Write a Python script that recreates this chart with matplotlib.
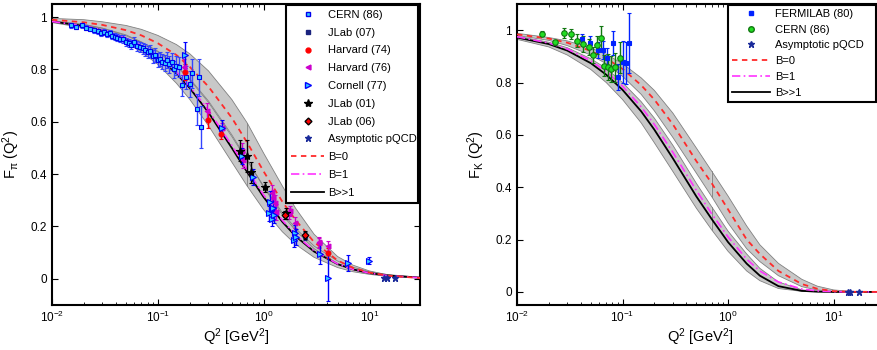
""" Pion and kaon form factors vs Q^2 with model curves and data. """

import numpy as np
import matplotlib
matplotlib.use('Agg')
import matplotlib.pyplot as plt
from matplotlib.lines import Line2D


# -------------------------------------------------------------------------------
# 0. DATA
# -------------------------------------------------------------------------------

q2_grid = [0.01, 0.02, 0.03, 0.05, 0.07, 0.1, 0.15, 0.2, 0.3, 0.5, 0.7,
           1, 1.5, 2, 3, 5, 7, 10, 15, 30]

# pion curves
pi_b0 = [0.99, 0.98, 0.97, 0.95, 0.93, 0.90, 0.855, 0.81, 0.735, 0.615, 0.52,
         0.41, 0.295, 0.225, 0.14, 0.07, 0.042, 0.024, 0.012, 0.003]
pi_b1 = [0.983, 0.967, 0.951, 0.921, 0.892, 0.851, 0.79, 0.736, 0.645, 0.51, 0.416,
         0.32, 0.224, 0.168, 0.107, 0.057, 0.036, 0.022, 0.012, 0.004]
pi_binf = [0.983, 0.966, 0.949, 0.918, 0.888, 0.847, 0.784, 0.729, 0.636, 0.500, 0.407,
           0.312, 0.218, 0.163, 0.104, 0.056, 0.036, 0.022, 0.0125, 0.0046]
pi_band1_lo = [0.979, 0.959, 0.939, 0.902, 0.867, 0.819, 0.747, 0.686, 0.586, 0.446, 0.354,
               0.264, 0.180, 0.132, 0.082, 0.043, 0.027, 0.017, 0.009, 0.003]
pi_band1_hi = [0.985, 0.971, 0.957, 0.929, 0.904, 0.867, 0.811, 0.761, 0.675, 0.544, 0.451,
               0.354, 0.253, 0.193, 0.125, 0.068, 0.044, 0.027, 0.016, 0.006]
pi_band0_lo = [0.985, 0.972, 0.958, 0.932, 0.905, 0.87, 0.815, 0.765, 0.68, 0.55, 0.455,
               0.35, 0.245, 0.185, 0.115, 0.058, 0.035, 0.02, 0.01, 0.003]
pi_band0_hi = [0.995, 0.99, 0.982, 0.968, 0.953, 0.93, 0.895, 0.86, 0.795, 0.685, 0.595,
               0.48, 0.355, 0.27, 0.17, 0.085, 0.052, 0.03, 0.015, 0.004]

# kaon curves
k_b0 = [0.984, 0.968, 0.952, 0.921, 0.892, 0.852, 0.79, 0.735, 0.64, 0.50, 0.415,
        0.315, 0.20, 0.145, 0.08, 0.03, 0.012, 0.003, 0.0005, 0.0]
k_b1 = [0.975, 0.951, 0.928, 0.883, 0.842, 0.786, 0.707, 0.64, 0.533, 0.388, 0.298,
        0.21, 0.125, 0.08, 0.038, 0.011, 0.004, 0.001, 0.0, 0.0]
k_binf = [0.972, 0.947, 0.922, 0.874, 0.83, 0.772, 0.69, 0.62, 0.51, 0.365, 0.278,
          0.19, 0.108, 0.062, 0.022, 0.004, 0.001, 0.0, 0.0, 0.0]
k_band1_lo = [0.965, 0.936, 0.905, 0.85, 0.80, 0.735, 0.646, 0.57, 0.46, 0.32, 0.237,
              0.155, 0.08, 0.043, 0.013, 0.002, 0.0003, 0.0, 0.0, 0.0]
k_band1_hi = [0.977, 0.954, 0.933, 0.891, 0.854, 0.80, 0.727, 0.664, 0.56, 0.415, 0.325,
              0.232, 0.145, 0.09, 0.038, 0.008, 0.002, 0.0004, 0.0, 0.0]
k_band0_lo = [0.980, 0.961, 0.941, 0.905, 0.872, 0.824, 0.755, 0.692, 0.59, 0.454, 0.364,
              0.263, 0.165, 0.116, 0.062, 0.020, 0.0074, 0.0017, 0.0, 0.0]
k_band0_hi = [0.988, 0.972, 0.959, 0.932, 0.908, 0.872, 0.818, 0.77, 0.683, 0.55, 0.461,
              0.366, 0.252, 0.18, 0.109, 0.048, 0.022, 0.0076, 0.0014, 0.0]

# pion data
cern86_q2 = [0.015, 0.017, 0.019, 0.021, 0.023, 0.025, 0.027, 0.029, 0.031, 0.033, 0.035,
             0.037, 0.039, 0.041, 0.044, 0.047, 0.05, 0.053, 0.056, 0.06, 0.064, 0.068,
             0.072, 0.076, 0.08, 0.085, 0.09, 0.095, 0.1, 0.105, 0.11, 0.116, 0.122,
             0.128, 0.135, 0.142, 0.15, 0.158, 0.17, 0.185, 0.2, 0.212, 0.234, 0.244, 0.255]
cern86_f = [0.968, 0.962, 0.968, 0.96, 0.955, 0.95, 0.945, 0.938, 0.942, 0.935, 0.94,
            0.928, 0.925, 0.922, 0.918, 0.915, 0.905, 0.90, 0.895, 0.905, 0.89, 0.885,
            0.88, 0.875, 0.865, 0.87, 0.85, 0.855, 0.835, 0.84, 0.83, 0.825, 0.835,
            0.82, 0.83, 0.80, 0.815, 0.81, 0.74, 0.77, 0.745, 0.785, 0.648, 0.77, 0.58]
cern86_err = [0.008, 0.008, 0.008, 0.009, 0.009, 0.01, 0.01, 0.01, 0.011, 0.011, 0.012,
              0.012, 0.013, 0.013, 0.014, 0.015, 0.015, 0.016, 0.017, 0.018, 0.019, 0.02,
              0.021, 0.022, 0.023, 0.024, 0.025, 0.026, 0.027, 0.028, 0.029, 0.03, 0.031,
              0.032, 0.033, 0.034, 0.036, 0.038, 0.04, 0.045, 0.05, 0.055, 0.06, 0.07, 0.08]

jlab07_q2 = [1.60, 2.45]
jlab07_f = [0.243, 0.165]
jlab07_err = [0.015, 0.015]

harv74_q2 = [0.18, 0.295, 0.395, 4.05]
harv74_f = [0.79, 0.607, 0.553, 0.098]
harv74_err = [0.03, 0.03, 0.02, 0.02]

harv76_q2 = [0.175, 0.29, 0.405, 0.62, 0.64, 1.19, 1.22, 1.27, 1.32, 1.72, 1.79, 1.98,
             3.3, 3.34, 4.09]
harv76_f = [0.81, 0.64, 0.575, 0.49, 0.455, 0.327, 0.31, 0.29, 0.255, 0.25, 0.26, 0.215,
            0.136, 0.14, 0.125]
harv76_err = [0.03, 0.03, 0.02, 0.03, 0.03, 0.03, 0.03, 0.03, 0.03, 0.02, 0.02, 0.02,
              0.02, 0.02, 0.02]

corn77_q2 = [0.18, 0.40, 0.62, 0.80, 1.13, 1.16, 1.2, 1.22, 1.25, 1.95, 1.98, 2.03, 3.4,
             4.09, 6.3, 9.8]
corn77_f = [0.855, 0.575, 0.47, 0.39, 0.25, 0.295, 0.23, 0.27, 0.245, 0.15, 0.175, 0.16,
            0.095, 0.005, 0.06, 0.07]
corn77_err = [0.05, 0.03, 0.03, 0.03, 0.03, 0.04, 0.03, 0.04, 0.03, 0.03, 0.03, 0.03,
              0.04, 0.09, 0.03, 0.015]

jlab01_q2 = [0.60, 0.70, 0.76, 1.02, 1.61]
jlab01_f = [0.49, 0.47, 0.407, 0.35, 0.25]
jlab01_err = [0.04, 0.06, 0.04, 0.02, 0.02]

jlab06_q2 = [1.60, 2.45]
jlab06_f = [0.245, 0.167]
jlab06_err = [0.015, 0.015]

pqcd_pi_q2 = [13.6, 14.7, 17.6]
pqcd_pi_f = [0.002, 0.002, 0.002]

# kaon data
ferm80_q2 = [0.041, 0.049, 0.058, 0.065, 0.072, 0.082, 0.091, 0.1007, 0.108, 0.1155]
ferm80_f = [0.966, 0.952, 0.924, 0.924, 0.892, 0.952, 0.82, 0.878, 0.876, 0.952]
ferm80_err = [0.02, 0.025, 0.03, 0.035, 0.04, 0.045, 0.05, 0.08, 0.08, 0.115]

cernk_q2 = [0.0174, 0.023, 0.0276, 0.0325, 0.0373, 0.042, 0.048, 0.052, 0.057, 0.0626,
            0.0669, 0.0725, 0.078, 0.085, 0.0955]
cernk_f = [0.987, 0.953, 0.99, 0.985, 0.959, 0.946, 0.936, 0.905, 0.943, 0.97,
           0.864, 0.86, 0.852, 0.858, 0.895]
cernk_err = [0.01, 0.01, 0.02, 0.02, 0.025, 0.03, 0.03, 0.03, 0.035, 0.045,
             0.04, 0.05, 0.05, 0.055, 0.06]

pqcd_k_q2 = [13.6, 14.3, 17.5]
pqcd_k_f = [0.001, 0.001, 0.001]


# -------------------------------------------------------------------------------
# 1. STYLE
# -------------------------------------------------------------------------------

plt.rcParams['font.family'] = ['Liberation Sans', 'DejaVu Sans']
plt.rcParams['mathtext.fontset'] = 'custom'
plt.rcParams['mathtext.rm'] = 'Liberation Sans'
plt.rcParams['mathtext.it'] = 'Liberation Sans:italic'
plt.rcParams['mathtext.default'] = 'regular'

BAND = '#c8c8c8'
BAND_EDGE = '#808080'
RED = '#ff2a2a'
MAG = '#ff33ff'


def draw_band(ax, lo, hi):

    """ Gray uncertainty band, drawn in two patches split at Q^2 = 0.7 """

    x = np.array(q2_grid)
    lo = np.array(lo)
    hi = np.array(hi)
    for m in (x <= 0.7, x >= 0.7):
        ax.fill_between(x[m], lo[m], hi[m], facecolor=BAND, edgecolor='none', zorder=1)


def band_edges(ax, lo, hi):

    x = np.array(q2_grid)
    ax.plot(x, lo, color=BAND_EDGE, lw=0.6, zorder=2)
    ax.plot(x, hi, color=BAND_EDGE, lw=0.6, zorder=2)
    i = q2_grid.index(0.7)
    ax.plot([x[i], x[i]], [lo[i], hi[i]], color=BAND_EDGE, lw=0.6, zorder=2)


def draw_curves(ax, b0, b1, binf):

    x = np.array(q2_grid)
    ax.plot(x, binf, color='black', lw=1.3, zorder=3)
    ax.plot(x, b1, color=MAG, lw=1.2, ls=(0, (5, 2, 1, 2)), zorder=4)
    ax.plot(x, b0, color=RED, lw=1.3, ls=(0, (3, 2.5)), zorder=4)


def style_axes(ax, ylim):

    ax.set_xscale('log')
    ax.set_xlim(0.01, 30)
    ax.set_ylim(*ylim)
    ax.set_yticks([0, 0.2, 0.4, 0.6, 0.8, 1])
    ax.set_yticklabels(['0', '0.2', '0.4', '0.6', '0.8', '1'])
    ax.set_xticks([0.01, 0.1, 1, 10])
    ax.tick_params(which='both', direction='in', top=True, right=True, labelsize=8.5)
    ax.tick_params(which='major', length=4, width=0.8)
    ax.tick_params(which='minor', length=2, width=0.6)
    for s in ax.spines.values():
        s.set_linewidth(1.5)
    ax.set_xlabel('Q$^2$ [GeV$^2$]', fontsize=10.5, labelpad=1)


def data(ax, q, f, err, marker, face, edge, ecolor, ms=3.5, z=5):

    ax.errorbar(q, f, yerr=err, fmt=marker, ms=ms, mfc=face, mec=edge, mew=0.8,
                ecolor=ecolor, elinewidth=1.0, capsize=1.2, capthick=0.8, zorder=z)


# -------------------------------------------------------------------------------
# 2. FIGURE
# -------------------------------------------------------------------------------

fig = plt.figure(figsize=(8.78, 3.5), dpi=100)
ax1 = fig.add_axes([52 / 878, 45 / 350, 368 / 878, 301 / 350])
ax2 = fig.add_axes([517 / 878, 45 / 350, 367 / 878, 301 / 350])

# --- pion panel
draw_band(ax1, pi_band1_lo, pi_band1_hi)
draw_band(ax1, pi_band0_lo, pi_band0_hi)
band_edges(ax1, pi_band1_lo, pi_band1_hi)
band_edges(ax1, pi_band0_lo, pi_band0_hi)
draw_curves(ax1, pi_b0, pi_b1, pi_binf)

data(ax1, cern86_q2, cern86_f, cern86_err, 's', '#33ccff', '#0000ee', '#3344ff', ms=3)
data(ax1, jlab07_q2, jlab07_f, jlab07_err, 's', '#1a237e', '#1a237e', '#1a237e', ms=3)
data(ax1, harv74_q2, harv74_f, harv74_err, 'o', '#ff0000', '#ff0000', '#ff0000', ms=3.5)
data(ax1, harv76_q2, harv76_f, harv76_err, '<', '#cc00cc', '#cc00cc', '#cc00cc', ms=3.5)
data(ax1, corn77_q2, corn77_f, corn77_err, '>', '#33ccff', '#0000ff', '#0000ff', ms=4)
data(ax1, jlab01_q2, jlab01_f, jlab01_err, '*', 'black', 'black', 'black', ms=6)
data(ax1, jlab06_q2, jlab06_f, jlab06_err, 'D', '#ff0000', 'black', 'black', ms=3.5)
ax1.plot(pqcd_pi_q2, pqcd_pi_f, '*', color='#1a2a9a', ms=5, zorder=6)

style_axes(ax1, (-0.1, 1.05))
ax1.set_ylabel('F$_{\\pi}$ (Q$^2$)', fontsize=10.5, labelpad=6)

h1 = [
    Line2D([], [], ls='none', marker='s', ms=3, mfc='#33ccff', mec='#0000ee', label='CERN (86)'),
    Line2D([], [], ls='none', marker='s', ms=3, mfc='#1a237e', mec='#1a237e', label='JLab (07)'),
    Line2D([], [], ls='none', marker='o', ms=3.5, color='#ff0000', label='Harvard (74)'),
    Line2D([], [], ls='none', marker='<', ms=3.5, color='#cc00cc', label='Harvard (76)'),
    Line2D([], [], ls='none', marker='>', ms=4, mfc='#33ccff', mec='#0000ff', label='Cornell (77)'),
    Line2D([], [], ls='none', marker='*', ms=6, color='black', label='JLab (01)'),
    Line2D([], [], ls='none', marker='D', ms=3.5, mfc='#ff0000', mec='black', label='JLab (06)'),
    Line2D([], [], ls='none', marker='*', ms=5, color='#1a2a9a', label='Asymptotic pQCD'),
    Line2D([], [], color=RED, lw=1.3, ls=(0, (3, 2.5)), label='B=0'),
    Line2D([], [], color=MAG, lw=1.2, ls=(0, (5, 2, 1, 2)), label='B=1'),
    Line2D([], [], color='black', lw=1.3, label='B>>1'),
]
leg1 = ax1.legend(handles=h1, loc='upper left', mode='expand',
                  bbox_to_anchor=(0.636, 0.4, 0.359, 0.597),
                  fontsize=8, frameon=True, fancybox=False, framealpha=1,
                  edgecolor='black', handlelength=3.0, handletextpad=0.35,
                  labelspacing=0.70, borderpad=0.45, borderaxespad=0)
leg1.get_frame().set_linewidth(1.5)
leg1.set_zorder(10)

# --- kaon panel
draw_band(ax2, k_band1_lo, k_band1_hi)
draw_band(ax2, k_band0_lo, k_band0_hi)
band_edges(ax2, k_band1_lo, k_band1_hi)
band_edges(ax2, k_band0_lo, k_band0_hi)
draw_curves(ax2, k_b0, k_b1, k_binf)

data(ax2, ferm80_q2, ferm80_f, ferm80_err, 's', '#0022ff', '#0022ff', '#0022ff', ms=3.5)
data(ax2, cernk_q2, cernk_f, cernk_err, 'o', '#22dd22', '#117711', '#117711', ms=4)
ax2.plot(pqcd_k_q2, pqcd_k_f, '*', color='#1a2a9a', ms=5, zorder=6)

style_axes(ax2, (-0.05, 1.1))
ax2.set_ylabel('F$_K$ (Q$^2$)', fontsize=10.5, labelpad=6)

h2 = [
    Line2D([], [], ls='none', marker='s', ms=3.5, color='#0022ff', label='FERMILAB (80)'),
    Line2D([], [], ls='none', marker='o', ms=4, mfc='#22dd22', mec='#117711', label='CERN (86)'),
    Line2D([], [], ls='none', marker='*', ms=5, color='#1a2a9a', label='Asymptotic pQCD'),
    Line2D([], [], color=RED, lw=1.3, ls=(0, (3, 2.5)), label='B=0'),
    Line2D([], [], color=MAG, lw=1.2, ls=(0, (5, 2, 1, 2)), label='B=1'),
    Line2D([], [], color='black', lw=1.3, label='B>>1'),
]
leg2 = ax2.legend(handles=h2, loc='upper left', mode='expand',
                  bbox_to_anchor=(0.575, 0.6, 0.403, 0.397),
                  fontsize=8, frameon=True, fancybox=False, framealpha=1,
                  edgecolor='black', handlelength=3.4, handletextpad=0.45,
                  labelspacing=0.52, borderpad=0.35, borderaxespad=0)
leg2.get_frame().set_linewidth(1.5)
leg2.set_zorder(10)

fig.savefig('out.png', dpi=100)
